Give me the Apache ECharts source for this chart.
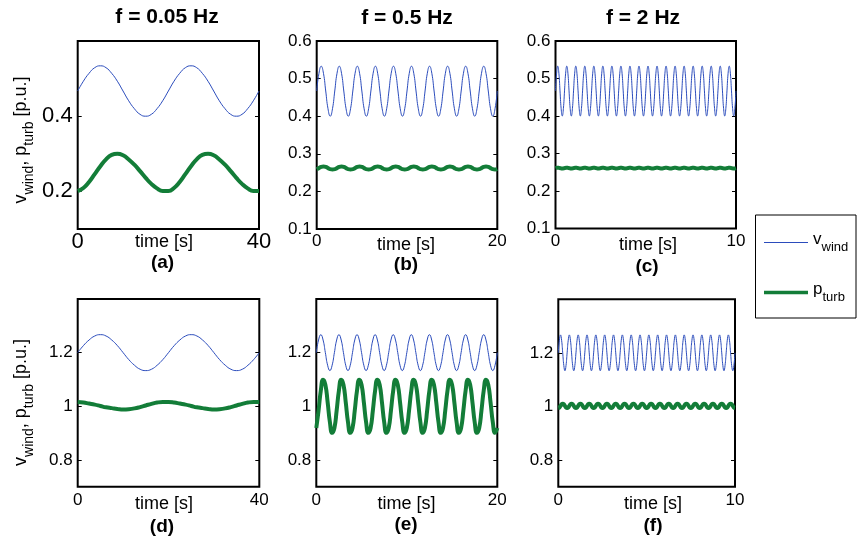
<!DOCTYPE html>
<html>
<head>
<meta charset="utf-8">
<script src="https://cdn.jsdelivr.net/npm/echarts@6/dist/echarts.min.js"></script>
<style>
  html, body { margin: 0; padding: 0; background: #fff; }
  #chart { width: 857px; height: 540px; }
</style>
</head>
<body>
<div id="chart"></div>
<script>
// ---- data -------------------------------------------------------------
// column headings (wind oscillation frequency) and panel captions
const columnTitles = ['f = 0.05 Hz', 'f = 0.5 Hz', 'f = 2 Hz'];
const panelLetters = ['(a)', '(b)', '(c)', '(d)', '(e)', '(f)'];
const xAxisTitle = 'time [s]';

// sample spacing [s] and record length [s] of each column
const sampleStep = [1.25, 0.25, 0.0625];
const recordLength = [40, 20, 10];

// tick labels
const xTickValues = [[0, 40], [0, 20], [0, 10]];
const yTicksTopFirst = [0.2, 0.4];
const yTicksTop = [0.1, 0.2, 0.3, 0.4, 0.5, 0.6];
const yTicksBottom = [0.8, 1, 1.2];

// (a) f = 0.05 Hz, low wind
const vWindA = [
  0.467, 0.493, 0.514, 0.529, 0.534, 0.529, 0.514, 0.493,
  0.467, 0.441, 0.420, 0.405, 0.400, 0.405, 0.420, 0.441,
  0.467, 0.493, 0.514, 0.529, 0.534, 0.529, 0.514, 0.493,
  0.467, 0.441, 0.420, 0.405, 0.400, 0.405, 0.420, 0.441,
  0.467];
const pTurbA = [
  0.201, 0.209, 0.225, 0.246, 0.267, 0.285, 0.297, 0.300,
  0.296, 0.285, 0.271, 0.254, 0.236, 0.220, 0.208, 0.201,
  0.201, 0.209, 0.225, 0.246, 0.267, 0.285, 0.297, 0.300,
  0.296, 0.285, 0.271, 0.254, 0.236, 0.220, 0.208, 0.201,
  0.201];

// (b) f = 0.5 Hz, low wind
const vWindB = [
  0.467, 0.514, 0.533, 0.514, 0.467, 0.420, 0.400, 0.420,
  0.467, 0.514, 0.533, 0.514, 0.467, 0.420, 0.400, 0.420,
  0.467, 0.514, 0.533, 0.514, 0.467, 0.420, 0.400, 0.420,
  0.467, 0.514, 0.533, 0.514, 0.467, 0.420, 0.400, 0.420,
  0.467, 0.514, 0.533, 0.514, 0.467, 0.420, 0.400, 0.420,
  0.467, 0.514, 0.533, 0.514, 0.467, 0.420, 0.400, 0.420,
  0.467, 0.514, 0.533, 0.514, 0.467, 0.420, 0.400, 0.420,
  0.467, 0.514, 0.533, 0.514, 0.467, 0.420, 0.400, 0.420,
  0.467, 0.514, 0.533, 0.514, 0.467, 0.420, 0.400, 0.420,
  0.467, 0.514, 0.533, 0.514, 0.467, 0.420, 0.400, 0.420,
  0.467];
const pTurbB = [
  0.259, 0.262, 0.265, 0.266, 0.265, 0.262, 0.259, 0.258,
  0.259, 0.262, 0.265, 0.266, 0.265, 0.262, 0.259, 0.258,
  0.259, 0.262, 0.265, 0.266, 0.265, 0.262, 0.259, 0.258,
  0.259, 0.262, 0.265, 0.266, 0.265, 0.262, 0.259, 0.258,
  0.259, 0.262, 0.265, 0.266, 0.265, 0.262, 0.259, 0.258,
  0.259, 0.262, 0.265, 0.266, 0.265, 0.262, 0.259, 0.258,
  0.259, 0.262, 0.265, 0.266, 0.265, 0.262, 0.259, 0.258,
  0.259, 0.262, 0.265, 0.266, 0.265, 0.262, 0.259, 0.258,
  0.259, 0.262, 0.265, 0.266, 0.265, 0.262, 0.259, 0.258,
  0.259, 0.262, 0.265, 0.266, 0.265, 0.262, 0.259, 0.258,
  0.259];

// (c) f = 2 Hz, low wind
const vWindC = [
  0.467, 0.514, 0.533, 0.514, 0.467, 0.420, 0.400, 0.420,
  0.467, 0.514, 0.533, 0.514, 0.467, 0.420, 0.400, 0.420,
  0.467, 0.514, 0.533, 0.514, 0.467, 0.420, 0.400, 0.420,
  0.467, 0.514, 0.533, 0.514, 0.467, 0.420, 0.400, 0.420,
  0.467, 0.514, 0.533, 0.514, 0.467, 0.420, 0.400, 0.420,
  0.467, 0.514, 0.533, 0.514, 0.467, 0.420, 0.400, 0.420,
  0.467, 0.514, 0.533, 0.514, 0.467, 0.420, 0.400, 0.420,
  0.467, 0.514, 0.533, 0.514, 0.467, 0.420, 0.400, 0.420,
  0.467, 0.514, 0.533, 0.514, 0.467, 0.420, 0.400, 0.420,
  0.467, 0.514, 0.533, 0.514, 0.467, 0.420, 0.400, 0.420,
  0.467, 0.514, 0.533, 0.514, 0.467, 0.420, 0.400, 0.420,
  0.467, 0.514, 0.533, 0.514, 0.467, 0.420, 0.400, 0.420,
  0.467, 0.514, 0.533, 0.514, 0.467, 0.420, 0.400, 0.420,
  0.467, 0.514, 0.533, 0.514, 0.467, 0.420, 0.400, 0.420,
  0.467, 0.514, 0.533, 0.514, 0.467, 0.420, 0.400, 0.420,
  0.467, 0.514, 0.533, 0.514, 0.467, 0.420, 0.400, 0.420,
  0.467, 0.514, 0.533, 0.514, 0.467, 0.420, 0.400, 0.420,
  0.467, 0.514, 0.533, 0.514, 0.467, 0.420, 0.400, 0.420,
  0.467, 0.514, 0.533, 0.514, 0.467, 0.420, 0.400, 0.420,
  0.467, 0.514, 0.533, 0.514, 0.467, 0.420, 0.400, 0.420,
  0.467];
const pTurbC = [
  0.2610, 0.2617, 0.2620, 0.2617, 0.2610, 0.2603, 0.2600, 0.2603,
  0.2610, 0.2617, 0.2620, 0.2617, 0.2610, 0.2603, 0.2600, 0.2603,
  0.2610, 0.2617, 0.2620, 0.2617, 0.2610, 0.2603, 0.2600, 0.2603,
  0.2610, 0.2617, 0.2620, 0.2617, 0.2610, 0.2603, 0.2600, 0.2603,
  0.2610, 0.2617, 0.2620, 0.2617, 0.2610, 0.2603, 0.2600, 0.2603,
  0.2610, 0.2617, 0.2620, 0.2617, 0.2610, 0.2603, 0.2600, 0.2603,
  0.2610, 0.2617, 0.2620, 0.2617, 0.2610, 0.2603, 0.2600, 0.2603,
  0.2610, 0.2617, 0.2620, 0.2617, 0.2610, 0.2603, 0.2600, 0.2603,
  0.2610, 0.2617, 0.2620, 0.2617, 0.2610, 0.2603, 0.2600, 0.2603,
  0.2610, 0.2617, 0.2620, 0.2617, 0.2610, 0.2603, 0.2600, 0.2603,
  0.2610, 0.2617, 0.2620, 0.2617, 0.2610, 0.2603, 0.2600, 0.2603,
  0.2610, 0.2617, 0.2620, 0.2617, 0.2610, 0.2603, 0.2600, 0.2603,
  0.2610, 0.2617, 0.2620, 0.2617, 0.2610, 0.2603, 0.2600, 0.2603,
  0.2610, 0.2617, 0.2620, 0.2617, 0.2610, 0.2603, 0.2600, 0.2603,
  0.2610, 0.2617, 0.2620, 0.2617, 0.2610, 0.2603, 0.2600, 0.2603,
  0.2610, 0.2617, 0.2620, 0.2617, 0.2610, 0.2603, 0.2600, 0.2603,
  0.2610, 0.2617, 0.2620, 0.2617, 0.2610, 0.2603, 0.2600, 0.2603,
  0.2610, 0.2617, 0.2620, 0.2617, 0.2610, 0.2603, 0.2600, 0.2603,
  0.2610, 0.2617, 0.2620, 0.2617, 0.2610, 0.2603, 0.2600, 0.2603,
  0.2610, 0.2617, 0.2620, 0.2617, 0.2610, 0.2603, 0.2600, 0.2603,
  0.2610];

// (d) f = 0.05 Hz, high wind
const vWindD = [
  1.200, 1.226, 1.247, 1.262, 1.267, 1.262, 1.247, 1.226,
  1.200, 1.174, 1.153, 1.138, 1.133, 1.138, 1.153, 1.174,
  1.200, 1.226, 1.247, 1.262, 1.267, 1.262, 1.247, 1.226,
  1.200, 1.174, 1.153, 1.138, 1.133, 1.138, 1.153, 1.174,
  1.200];
const pTurbD = [
  1.016, 1.014, 1.010, 1.006, 1.001, 0.996, 0.993, 0.990,
  0.988, 0.989, 0.992, 0.997, 1.003, 1.009, 1.014, 1.016,
  1.016, 1.014, 1.010, 1.006, 1.001, 0.996, 0.993, 0.990,
  0.988, 0.989, 0.992, 0.997, 1.003, 1.009, 1.014, 1.016,
  1.016];

// (e) f = 0.5 Hz, high wind
const vWindE = [
  1.200, 1.247, 1.267, 1.247, 1.200, 1.153, 1.133, 1.153,
  1.200, 1.247, 1.267, 1.247, 1.200, 1.153, 1.133, 1.153,
  1.200, 1.247, 1.267, 1.247, 1.200, 1.153, 1.133, 1.153,
  1.200, 1.247, 1.267, 1.247, 1.200, 1.153, 1.133, 1.153,
  1.200, 1.247, 1.267, 1.247, 1.200, 1.153, 1.133, 1.153,
  1.200, 1.247, 1.267, 1.247, 1.200, 1.153, 1.133, 1.153,
  1.200, 1.247, 1.267, 1.247, 1.200, 1.153, 1.133, 1.153,
  1.200, 1.247, 1.267, 1.247, 1.200, 1.153, 1.133, 1.153,
  1.200, 1.247, 1.267, 1.247, 1.200, 1.153, 1.133, 1.153,
  1.200, 1.247, 1.267, 1.247, 1.200, 1.153, 1.133, 1.153,
  1.200];
const pTurbE = [
  0.919, 0.984, 1.059, 1.099, 1.081, 1.016, 0.941, 0.901,
  0.919, 0.984, 1.059, 1.099, 1.081, 1.016, 0.941, 0.901,
  0.919, 0.984, 1.059, 1.099, 1.081, 1.016, 0.941, 0.901,
  0.919, 0.984, 1.059, 1.099, 1.081, 1.016, 0.941, 0.901,
  0.919, 0.984, 1.059, 1.099, 1.081, 1.016, 0.941, 0.901,
  0.919, 0.984, 1.059, 1.099, 1.081, 1.016, 0.941, 0.901,
  0.919, 0.984, 1.059, 1.099, 1.081, 1.016, 0.941, 0.901,
  0.919, 0.984, 1.059, 1.099, 1.081, 1.016, 0.941, 0.901,
  0.919, 0.984, 1.059, 1.099, 1.081, 1.016, 0.941, 0.901,
  0.919, 0.984, 1.059, 1.099, 1.081, 1.016, 0.941, 0.901,
  0.919];

// (f) f = 2 Hz, high wind
const vWindF = [
  1.200, 1.247, 1.267, 1.247, 1.200, 1.153, 1.133, 1.153,
  1.200, 1.247, 1.267, 1.247, 1.200, 1.153, 1.133, 1.153,
  1.200, 1.247, 1.267, 1.247, 1.200, 1.153, 1.133, 1.153,
  1.200, 1.247, 1.267, 1.247, 1.200, 1.153, 1.133, 1.153,
  1.200, 1.247, 1.267, 1.247, 1.200, 1.153, 1.133, 1.153,
  1.200, 1.247, 1.267, 1.247, 1.200, 1.153, 1.133, 1.153,
  1.200, 1.247, 1.267, 1.247, 1.200, 1.153, 1.133, 1.153,
  1.200, 1.247, 1.267, 1.247, 1.200, 1.153, 1.133, 1.153,
  1.200, 1.247, 1.267, 1.247, 1.200, 1.153, 1.133, 1.153,
  1.200, 1.247, 1.267, 1.247, 1.200, 1.153, 1.133, 1.153,
  1.200, 1.247, 1.267, 1.247, 1.200, 1.153, 1.133, 1.153,
  1.200, 1.247, 1.267, 1.247, 1.200, 1.153, 1.133, 1.153,
  1.200, 1.247, 1.267, 1.247, 1.200, 1.153, 1.133, 1.153,
  1.200, 1.247, 1.267, 1.247, 1.200, 1.153, 1.133, 1.153,
  1.200, 1.247, 1.267, 1.247, 1.200, 1.153, 1.133, 1.153,
  1.200, 1.247, 1.267, 1.247, 1.200, 1.153, 1.133, 1.153,
  1.200, 1.247, 1.267, 1.247, 1.200, 1.153, 1.133, 1.153,
  1.200, 1.247, 1.267, 1.247, 1.200, 1.153, 1.133, 1.153,
  1.200, 1.247, 1.267, 1.247, 1.200, 1.153, 1.133, 1.153,
  1.200, 1.247, 1.267, 1.247, 1.200, 1.153, 1.133, 1.153,
  1.200];
const pTurbF = [
  0.994, 0.996, 1.002, 1.008, 1.010, 1.008, 1.002, 0.996,
  0.994, 0.996, 1.002, 1.008, 1.010, 1.008, 1.002, 0.996,
  0.994, 0.996, 1.002, 1.008, 1.010, 1.008, 1.002, 0.996,
  0.994, 0.996, 1.002, 1.008, 1.010, 1.008, 1.002, 0.996,
  0.994, 0.996, 1.002, 1.008, 1.010, 1.008, 1.002, 0.996,
  0.994, 0.996, 1.002, 1.008, 1.010, 1.008, 1.002, 0.996,
  0.994, 0.996, 1.002, 1.008, 1.010, 1.008, 1.002, 0.996,
  0.994, 0.996, 1.002, 1.008, 1.010, 1.008, 1.002, 0.996,
  0.994, 0.996, 1.002, 1.008, 1.010, 1.008, 1.002, 0.996,
  0.994, 0.996, 1.002, 1.008, 1.010, 1.008, 1.002, 0.996,
  0.994, 0.996, 1.002, 1.008, 1.010, 1.008, 1.002, 0.996,
  0.994, 0.996, 1.002, 1.008, 1.010, 1.008, 1.002, 0.996,
  0.994, 0.996, 1.002, 1.008, 1.010, 1.008, 1.002, 0.996,
  0.994, 0.996, 1.002, 1.008, 1.010, 1.008, 1.002, 0.996,
  0.994, 0.996, 1.002, 1.008, 1.010, 1.008, 1.002, 0.996,
  0.994, 0.996, 1.002, 1.008, 1.010, 1.008, 1.002, 0.996,
  0.994, 0.996, 1.002, 1.008, 1.010, 1.008, 1.002, 0.996,
  0.994, 0.996, 1.002, 1.008, 1.010, 1.008, 1.002, 0.996,
  0.994, 0.996, 1.002, 1.008, 1.010, 1.008, 1.002, 0.996,
  0.994, 0.996, 1.002, 1.008, 1.010, 1.008, 1.002, 0.996,
  0.994];

// ---- layout & style ---------------------------------------------------
const FONT = "'Liberation Sans', Arial, Helvetica, sans-serif";
const BLUE = '#2b4cbc';
const GREEN = '#137d38';

const grids = [
  { left: 77.7,  top: 41,    width: 181.3, height: 188 },
  { left: 316.7, top: 41,    width: 180.6, height: 188 },
  { left: 555.5, top: 41,    width: 180.5, height: 187.5 },
  { left: 77.7,  top: 299,   width: 181.6, height: 187.7 },
  { left: 316.3, top: 299,   width: 181,   height: 187.7 },
  { left: 558.3, top: 299.3, width: 176.7, height: 187.4 }
];
const titlePos = [[167, 17], [407, 18], [643, 18]];
const xTitlePos = [[164, 242], [406, 245], [648, 245], [164, 504], [406.5, 504], [653, 504]];
const letterPos = [[162.5, 263], [406, 265], [647, 266.5], [162, 526.5], [406, 524.5], [653, 526]];
const yTitlePos = [[24, 140], [24, 402.5]];

const panels = [
  { v: vWindA, p: pTurbA, col: 0, row: 0 },
  { v: vWindB, p: pTurbB, col: 1, row: 0 },
  { v: vWindC, p: pTurbC, col: 2, row: 0 },
  { v: vWindD, p: pTurbD, col: 0, row: 1 },
  { v: vWindE, p: pTurbE, col: 1, row: 1 },
  { v: vWindF, p: pTurbF, col: 2, row: 1 }
];
const rowRange = [
  { min: 0.1, max: 0.6 },
  { min: 0.7, max: 1.4 }
];

function toPairs(values, dt) {
  return values.map((y, i) => [i * dt, y]);
}

const grid = [], xAxis = [], yAxis = [], series = [];
panels.forEach((pn, i) => {
  const big = (i === 0);                       // first panel uses larger tick text
  const tickFont = big ? 22 : 17;
  const yTicks = pn.row === 0 ? (big ? yTicksTopFirst : yTicksTop) : yTicksBottom;
  const rng = rowRange[pn.row];
  const end = recordLength[pn.col];

  grid.push(Object.assign({
    show: true, borderColor: '#000', borderWidth: 2, backgroundColor: 'transparent'
  }, grids[i]));

  xAxis.push({
    gridIndex: i, type: 'value', min: 0, max: end, interval: end,
    axisLine: { show: false }, axisTick: { show: false }, splitLine: { show: false },
    axisLabel: {
      customValues: xTickValues[pn.col], color: '#000', fontFamily: FONT,
      fontSize: tickFont, margin: pn.row === 0 ? (big ? 2 : 4) : 5.5,
      showMinLabel: true, showMaxLabel: true
    }
  });

  const yBase = {
    gridIndex: i, type: 'value', min: rng.min, max: rng.max, interval: 0.1,
    axisLine: { show: false }, splitLine: { show: false },
    axisTick: { show: true, inside: true, length: 4, customValues: yTicks,
                lineStyle: { color: '#000', width: 1 } }
  };
  yAxis.push(Object.assign({}, yBase, {
    position: 'left',
    axisLabel: { customValues: yTicks, color: '#000', fontFamily: FONT,
                 fontSize: tickFont, margin: 5 }
  }));
  yAxis.push(Object.assign({}, yBase, {
    position: 'right',
    axisLabel: { show: false }
  }));

  const dt = sampleStep[pn.col];
  series.push({
    type: 'line', name: 'v_wind', xAxisIndex: i, yAxisIndex: 2 * i,
    data: toPairs(pn.v, dt), symbol: 'none', smooth: true,
    lineStyle: { color: BLUE, width: 1 }, itemStyle: { color: BLUE }, z: 3
  });
  series.push({
    type: 'line', name: 'p_turb', xAxisIndex: i, yAxisIndex: 2 * i,
    data: toPairs(pn.p, dt), symbol: 'none', smooth: true,
    lineStyle: { color: GREEN, width: 4 }, itemStyle: { color: GREEN }, z: 4
  });
});

// text annotations
const graphic = [];
function addText(x, y, text, extra) {
  graphic.push(Object.assign({
    type: 'text', x: x, y: y, silent: true,
    style: Object.assign({
      text: text, fill: '#000',
      align: 'center', verticalAlign: 'middle',
      textAlign: 'center', textVerticalAlign: 'middle'
    }, extra.style)
  }, extra.el || {}));
}
columnTitles.forEach((t, c) => addText(titlePos[c][0], titlePos[c][1], t,
  { style: { fontFamily: FONT, fontSize: 21, fontWeight: 'bold' } }));
xTitlePos.forEach(p => addText(p[0], p[1], xAxisTitle,
  { style: { fontFamily: FONT, fontSize: 18 } }));
panelLetters.forEach((t, i) => addText(letterPos[i][0], letterPos[i][1], t,
  { style: { fontFamily: FONT, fontSize: 19, fontWeight: 'bold' } }));

const subRich = {
  m: { fontFamily: FONT, fontSize: 18, fill: '#000', verticalAlign: 'bottom', padding: [0, 0, 6, 0] },
  s: { fontFamily: FONT, fontSize: 14, fill: '#000', verticalAlign: 'bottom' }
};
yTitlePos.forEach(p => addText(p[0], p[1],
  '{m|v}{s|wind}{m|, p}{s|turb}{m| [p.u.]}',
  { style: { rich: subRich, fontFamily: FONT, fontSize: 18 }, el: { rotation: Math.PI / 2 } }));

// legend frame
graphic.push({
  type: 'rect', silent: true, z: 0,
  shape: { x: 755.5, y: 215, width: 100.5, height: 103 },
  style: { fill: '#fff', stroke: '#000', lineWidth: 1 }
});

const chart = echarts.init(document.getElementById('chart'), null, { renderer: 'canvas' });
chart.setOption({
  animation: false,
  backgroundColor: '#fff',
  textStyle: { fontFamily: FONT },
  grid, xAxis, yAxis, series, graphic,
  legend: {
    orient: 'vertical', left: 764, top: 231, padding: 0,
    itemWidth: 44, itemHeight: 14, itemGap: 27, selectedMode: false, z: 10,
    data: [
      { name: 'v_wind', icon: 'path://M0 0H44V1H0Z' },
      { name: 'p_turb', icon: 'path://M0 0H44V3.5H0Z' }
    ],
    itemStyle: { borderWidth: 0 },
    formatter: name => name === 'v_wind' ? '{m|v}{s|wind}' : '{m|p}{s|turb}',
    textStyle: {
      rich: {
        m: { fontFamily: FONT, fontSize: 17, color: '#000', verticalAlign: 'bottom', padding: [0, 0, 6, 0] },
        s: { fontFamily: FONT, fontSize: 13, color: '#000', verticalAlign: 'bottom' }
      }
    }
  }
});
</script>
</body>
</html>
